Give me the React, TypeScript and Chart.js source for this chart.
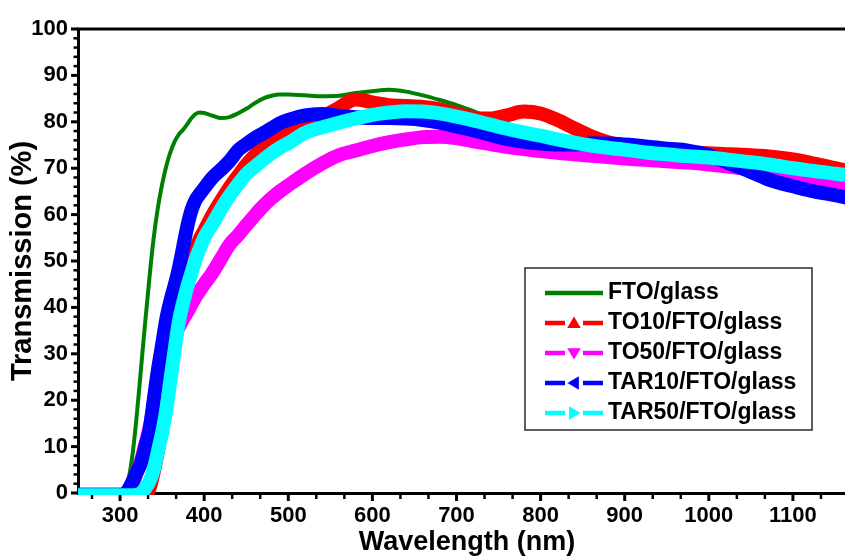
import React, { useEffect, useRef } from 'react';
import { Chart, registerables } from 'chart.js';

Chart.register(...registerables);

// ---------- data ----------
const wavelengths = [
  250, 300, 305, 310, 315, 320, 325, 330, 335, 340, 345, 350, 355, 360, 365, 370, 375, 380, 385, 390, 395, 400,
  410, 420, 430, 440, 450, 460, 470, 480, 490, 500,
  520, 540, 560, 580, 600, 620, 640, 660, 680, 700, 720, 740, 760, 780, 800, 820, 840, 860, 880, 900,
  925, 950, 975, 1000, 1025, 1050, 1075, 1100, 1125, 1150, 1175,
];

const ftoGlass = [
  0.3, 0.3, 0.8, 3, 8.5, 17, 27, 37, 46.5, 55, 61.5, 66.5, 70.5, 73.5, 75.8, 77.3, 78.3, 79.5, 80.8, 81.7, 82, 81.9,
  81.3, 80.8, 81, 81.8, 82.8, 84, 85, 85.6, 85.9, 85.9,
  85.7, 85.5, 85.6, 86.2, 86.6, 86.9, 86.5, 85.7, 84.7, 83.6, 82.3, 80.6, 79.5, 78.5, 77.8, 77, 76.2, 75.5, 75, 74.5,
  74, 73.6, 73.2, 72.9, 72.6, 72.3, 71.9, 71.4, 70.8, 70, 69.2,
];

const to10 = [
  -0.3, -0.3, -0.3, -0.3, -0.3, -0.3, -0.4, -0.4, 1, 4.5, 9, 14, 20, 27, 33.5, 39, 43.5, 47, 50, 52.5, 54.8, 56.5,
  60, 63, 65.8, 68.3, 70.7, 72.7, 74.5, 76, 77.3, 78.3,
  79.6, 81, 83, 84.8, 84.2, 83.6, 83.4, 83.2, 82.7, 81.8, 80.9, 80.7, 81.4, 82.2, 81.8, 80.4, 78.6, 76.9, 75.6, 74.8,
  74.2, 73.8, 73.5, 73.2, 73, 72.8, 72.5, 71.9, 71, 70, 69,
];

const to50 = [
  -0.5, -0.5, -0.3, 0.5, 2, 4.5, 7, 10.5, 14, 18.5, 23, 27, 30, 32.5, 34.3, 35.8, 37.5, 39, 40.7, 42.3, 43.7, 45,
  47.5, 50.5, 53.5, 55.5, 57.7, 59.8, 61.8, 63.5, 65, 66.3,
  68.8, 71, 72.8, 73.8, 74.8, 75.6, 76.2, 76.7, 76.8, 76.5, 75.8, 75.2, 74.6, 74.1, 73.7, 73.3, 73, 72.7, 72.4, 72.1,
  71.8, 71.5, 71.2, 70.8, 70.3, 69.7, 69, 68.2, 67.6, 67, 66.5,
];

const tar10 = [
  -0.5, -0.5, -0.3, 0.8, 2.5, 4.5, 6.5, 10, 13.5, 20, 26.5, 32, 37.5, 41.5, 44.8, 48.5, 53, 57.5, 61, 63.2, 64.5, 65.7,
  68, 69.7, 71.5, 73.8, 75.2, 76.5, 77.5, 78.6, 79.7, 80.4,
  81.4, 81.7, 81.3, 81, 80.8, 80.8, 80.7, 80.4, 79.8, 79, 78.2, 77.2, 76.3, 75.7, 75.3, 75.1, 75.1, 75.3, 75.3, 75.1,
  74.7, 74.2, 73.8, 72.8, 71, 69.2, 67.3, 66.1, 65, 64.2, 63.2,
];

const tar50 = [
  -0.5, -0.5, -0.5, -0.5, -0.5, -0.4, 0, 1, 2.5, 5, 9, 13, 18, 24.5, 31, 37, 41, 44.5, 47.5, 50.5, 52.8, 55,
  58, 61.2, 64, 66.5, 68.7, 70.3, 71.8, 73.2, 74.4, 75.4,
  77.6, 78.8, 79.8, 80.7, 81.5, 82, 82.3, 82.2, 81.8, 81.1, 80.3, 79.4, 78.5, 77.7, 77, 76.2, 75.5, 74.9, 74.4, 74,
  73.4, 73, 72.6, 72.3, 71.8, 71.3, 70.7, 70, 69.4, 68.8, 68.3,
];

const seriesLabels = ['FTO/glass', 'TO10/FTO/glass', 'TO50/FTO/glass', 'TAR10/FTO/glass', 'TAR50/FTO/glass'];
const seriesValues = [ftoGlass, to10, to50, tar10, tar50];
const seriesColors = ['#008000', '#ff0000', '#ff00ff', '#0000ff', '#00ffff'];
const seriesMarkers = ['none', 'up', 'down', 'left', 'right'];
const seriesWidths = [4, 14, 14, 14, 14];
const seriesOrder = [5, 4, 3, 2, 1];

const xMajorTicks = [300, 400, 500, 600, 700, 800, 900, 1000, 1100];
const yMajorTicks = [0, 10, 20, 30, 40, 50, 60, 70, 80, 90, 100];
const xRange = [250, 1175];
const yRange = [0, 100];

const FONT = '"Liberation Sans", Arial, Helvetica, sans-serif';

function drawMarker(ctx: CanvasRenderingContext2D, kind: string, cx: number, cy: number, r: number) {
  ctx.beginPath();
  if (kind === 'up') {
    ctx.moveTo(cx, cy - r);
    ctx.lineTo(cx + r * 1.05, cy + r * 0.75);
    ctx.lineTo(cx - r * 1.05, cy + r * 0.75);
  } else if (kind === 'down') {
    ctx.moveTo(cx, cy + r);
    ctx.lineTo(cx + r * 1.05, cy - r * 0.75);
    ctx.lineTo(cx - r * 1.05, cy - r * 0.75);
  } else if (kind === 'left') {
    ctx.moveTo(cx - r, cy);
    ctx.lineTo(cx + r * 0.75, cy - r * 1.05);
    ctx.lineTo(cx + r * 0.75, cy + r * 1.05);
  } else if (kind === 'right') {
    ctx.moveTo(cx + r, cy);
    ctx.lineTo(cx - r * 0.75, cy - r * 1.05);
    ctx.lineTo(cx - r * 0.75, cy + r * 1.05);
  }
  ctx.closePath();
  ctx.fill();
}

const framePlugin = {
  id: 'frameAndTicks',
  beforeDatasetsDraw(chart: any) {
    const { ctx, chartArea } = chart;
    const xs = chart.scales.x;
    const ys = chart.scales.y;
    const { left, right, top, bottom } = chartArea;
    ctx.save();
    ctx.strokeStyle = '#000';
    ctx.lineCap = 'butt';
    // top frame
    ctx.lineWidth = 3;
    ctx.beginPath();
    ctx.moveTo(left - 1.5, top);
    ctx.lineTo(right, top);
    ctx.stroke();
    // x ticks
    xMajorTicks.forEach((v) => {
      const px = xs.getPixelForValue(v);
      ctx.lineWidth = 3;
      ctx.beginPath();
      ctx.moveTo(px, bottom);
      ctx.lineTo(px, bottom + 8);
      ctx.stroke();
    });
    for (let k = -1; k <= 26; k++) {
      if (k % 3 === 0) continue;
      const v = xMajorTicks[0] + (k * 100) / 3;
      if (v <= xRange[0] || v >= xRange[1]) continue;
      const px = xs.getPixelForValue(v);
      ctx.lineWidth = 2.5;
      ctx.beginPath();
      ctx.moveTo(px, bottom);
      ctx.lineTo(px, bottom + 6);
      ctx.stroke();
    }
    // y ticks
    yMajorTicks.forEach((v) => {
      const py = ys.getPixelForValue(v);
      ctx.lineWidth = 3;
      ctx.beginPath();
      ctx.moveTo(left - 7, py);
      ctx.lineTo(left, py);
      ctx.stroke();
    });
    for (let v = yRange[0] + 2; v < yRange[1]; v += 2) {
      if (v % 10 === 0) continue;
      const py = ys.getPixelForValue(v);
      ctx.lineWidth = 2.5;
      ctx.beginPath();
      ctx.moveTo(left - 4.5, py);
      ctx.lineTo(left + 2, py);
      ctx.stroke();
    }
    ctx.restore();
  },
};

const legendPlugin = {
  id: 'boxLegend',
  afterDraw(chart: any) {
    const { ctx } = chart;
    const bx = 525;
    const by = 268;
    const bw = 287;
    const bh = 162;
    ctx.save();
    ctx.fillStyle = '#ffffff';
    ctx.fillRect(bx, by, bw, bh);
    ctx.strokeStyle = '#2a2a2a';
    ctx.lineWidth = 1.5;
    ctx.strokeRect(bx, by, bw, bh);
    chart.data.datasets.forEach((ds: any, i: number) => {
      const y = 293 + i * 30;
      const color = seriesColors[i];
      const marker = seriesMarkers[i];
      ctx.strokeStyle = color;
      ctx.fillStyle = color;
      ctx.lineWidth = 4.5;
      ctx.lineCap = 'butt';
      if (marker === 'none') {
        ctx.beginPath();
        ctx.moveTo(545, y);
        ctx.lineTo(603, y);
        ctx.stroke();
      } else {
        ctx.beginPath();
        ctx.moveTo(545, y);
        ctx.lineTo(565, y);
        ctx.moveTo(583, y);
        ctx.lineTo(603, y);
        ctx.stroke();
        drawMarker(ctx, marker, 574, y, 6.5);
      }
      ctx.fillStyle = '#000';
      ctx.font = `bold 23px ${FONT}`;
      ctx.textAlign = 'left';
      ctx.textBaseline = 'middle';
      ctx.fillText(ds.label, 608, y);
    });
    ctx.restore();
  },
};

export default function App() {
  const canvasRef = useRef<HTMLCanvasElement | null>(null);

  useEffect(() => {
    const canvas = canvasRef.current;
    if (!canvas) return;
    const datasets = seriesLabels.map((label, i) => ({
      label,
      data: wavelengths.map((w, j) => ({ x: w, y: seriesValues[i][j] })),
      borderColor: seriesColors[i],
      backgroundColor: seriesColors[i],
      borderWidth: seriesWidths[i],
      pointRadius: 0,
      pointHoverRadius: 0,
      fill: false,
      cubicInterpolationMode: 'monotone' as const,
      borderJoinStyle: 'round' as const,
      borderCapStyle: 'butt' as const,
      order: seriesOrder[i],
      clip: { left: 0, top: 10, right: 10, bottom: 2 },
    }));

    const chart = new Chart(canvas, {
      type: 'line',
      data: { datasets },
      options: {
        responsive: false,
        animation: false,
        devicePixelRatio: 1,
        layout: { padding: { top: 29, right: 4, left: 0, bottom: 0 } },
        plugins: {
          legend: { display: false },
          tooltip: { enabled: false },
        },
        events: [],
        scales: {
          x: {
            type: 'linear',
            min: xRange[0],
            max: xRange[1],
            afterBuildTicks: (scale: any) => {
              scale.ticks = xMajorTicks.map((v) => ({ value: v }));
            },
            afterFit: (scale: any) => {
              scale.height = 77;
            },
            grid: { display: true, drawOnChartArea: false, drawTicks: false },
            border: { display: true, width: 3, color: '#000' },
            ticks: {
              autoSkip: false,
              maxRotation: 0,
              padding: 10,
              color: '#000',
              font: { family: FONT, size: 22, weight: 'bold' },
              callback: (v: any) => String(v),
            },
            title: {
              display: true,
              text: 'Wavelength (nm)',
              color: '#000',
              font: { family: FONT, size: 27, weight: 'bold' },
              padding: { top: 0, bottom: 11 },
            },
          },
          y: {
            type: 'linear',
            min: yRange[0],
            max: yRange[1],
            afterBuildTicks: (scale: any) => {
              scale.ticks = yMajorTicks.map((v) => ({ value: v }));
            },
            afterFit: (scale: any) => {
              scale.width = 78;
            },
            grid: { display: true, drawOnChartArea: false, drawTicks: false },
            border: { display: true, width: 3, color: '#000' },
            ticks: {
              padding: 10,
              color: '#000',
              font: { family: FONT, size: 22, weight: 'bold' },
            },
            title: {
              display: true,
              text: 'Transmission (%)',
              color: '#000',
              font: { family: FONT, size: 29, weight: 'bold' },
              padding: { top: 6, bottom: 0 },
            },
          },
        },
      } as any,
      plugins: [framePlugin, legendPlugin],
    });

    return () => {
      chart.destroy();
    };
  }, []);

  return (
    <div
      style={{
        position: 'fixed',
        left: 0,
        top: 0,
        width: 845,
        height: 556,
        overflow: 'hidden',
        background: '#ffffff',
      }}
    >
      <canvas ref={canvasRef} width={860} height={570} style={{ display: 'block', width: 860, height: 570 }} />
    </div>
  );
}
